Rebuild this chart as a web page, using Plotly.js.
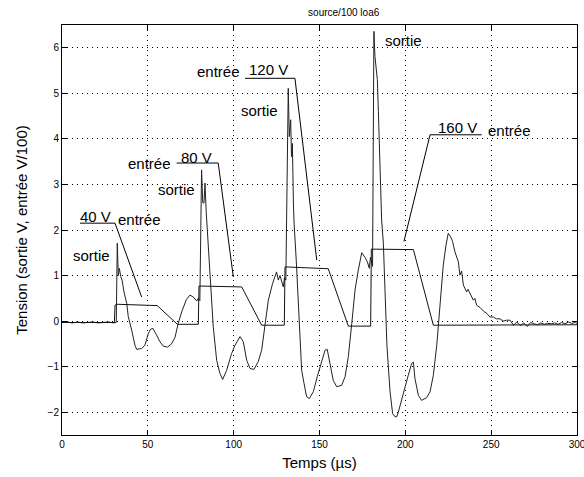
<!DOCTYPE html>
<html>
<head>
<meta charset="utf-8">
<script src="https://cdn.plot.ly/plotly-3.0.1.min.js"></script>
<style>html,body{margin:0;padding:0;background:#fff;}#chart{width:584px;height:477px;}</style>
</head>
<body>
<div id="chart"></div>
<script>
// ---- data ----
const entreeT = [0, 30.5, 30.9, 32, 55.5, 67.2, 79.4, 79.8, 104.7, 116.3, 129.5, 129.9, 155.1, 166.8, 179.8, 180.2, 204.7, 216.3, 300];
const entreeV = [-0.03, -0.03, 0.35, 0.37, 0.34, -0.07, -0.07, 0.77, 0.75, -0.09, -0.09, 1.19, 1.15, -0.11, -0.11, 1.58, 1.57, -0.09, -0.08];

const sortieT = [
  0, 3, 6, 9, 12, 15, 18, 21, 24, 27, 30, 31.6,
  32.2, 32.8, 33.4, 34.2, 35, 36.1, 37.7, 38.6, 40.6, 42.5, 43.5, 46.4, 48.3, 50.3, 51.5, 53, 55, 57, 59, 61.5, 63.8, 65.8, 67.7, 69.7, 72.4, 74.5, 76.5, 78.5, 79.4, 80.3,
  81.3, 82, 82.7, 83.3, 84, 85.2, 86.6, 88.1, 90.1, 92, 93.6, 95.9, 98.8, 100.8, 103.7, 105.6, 107.6, 109.5, 111.8, 114.3, 116.3, 118.2, 120.2, 122.7, 125, 126, 127, 128.9, 129.6, 130.4,
  131.8, 132.4, 133.2, 133.7, 134.2, 134.8, 135.2, 136.5, 137.7, 138.6, 139.6, 141, 142.5, 144.1, 146.4, 148.7, 151.3, 153.2, 154.5, 156.1, 158, 160, 162.9, 164.9, 166.8, 168.8, 170.7, 172.6, 174.6, 176.5, 177.9, 179, 179.7, 180.9,
  181.7, 182.3, 183, 183.7, 184.3, 185.2, 186.2, 187.2, 188.2, 189.3, 191.1, 192.6, 194, 195, 195.9, 197.9, 199.8, 201.7, 203.7, 204.7, 205.6, 207.6, 209.5, 212.4, 214.4, 216.3, 218.3, 220.2, 222.1, 223.7,
  225, 226.4, 227.5, 228.9, 230.9, 231.8, 232.8, 233.8, 235.7, 236.5, 237.7, 239.6, 240.5, 241.5, 243.5, 245.5, 247.4, 249.3, 251.3, 253, 255.2, 257, 259, 261, 263, 265, 267, 269, 271, 273, 275, 277, 279, 281, 283, 285, 287, 289, 291, 293, 295, 297, 299, 300
];
const sortieV = [
  -0.03, -0.02, -0.04, -0.02, -0.04, -0.03, -0.02, -0.04, -0.03, -0.02, -0.04, -0.03,
  1.71, 1.0, 1.16, 0.98, 0.9, 0.64, 0.39, 0.1, -0.2, -0.53, -0.62, -0.6, -0.53, -0.27, -0.18, -0.16, -0.3, -0.45, -0.55, -0.57, -0.5, -0.36, -0.05, 0.2, 0.47, 0.57, 0.53, 0.44, 0.5, 0.45,
  3.32, 2.6, 2.59, 3.03, 2.4, 1.71, 0.75, -0.12, -0.86, -1.15, -1.28, -1.08, -0.71, -0.53, -0.34, -0.45, -0.86, -1.04, -1.06, -0.89, -0.64, -0.12, 0.46, 0.83, 1.08, 0.9, 1.0, 0.75, 0.95, 0.9,
  5.11, 4.05, 4.42, 3.61, 3.9, 2.59, 2.15, 1.3, 0.39, -0.35, -1.08, -1.37, -1.66, -1.7, -1.55, -1.22, -0.86, -0.64, -0.62, -0.93, -1.3, -1.44, -1.41, -1.22, -0.78, -0.05, 0.68, 1.12, 1.5, 1.4, 1.3, 1.16, 1.4, 1.2,
  6.36, 5.81, 5.5, 5.3, 4.6, 3.32, 2.22, 1.71, 0.75, -0.55, -1.55, -2.03, -2.1, -2.1, -2.0, -1.7, -1.41, -1.19, -0.93, -0.9, -1.26, -1.63, -1.74, -1.68, -1.55, -1.19, -0.53, 0.42, 1.23, 1.67,
  1.93, 1.85, 1.75, 1.52, 1.3, 1.01, 1.1, 0.79, 0.64, 0.7, 0.6, 0.46, 0.5, 0.35, 0.3, 0.22, 0.17, 0.09, 0.09, 0.05, 0.05, 0.0, 0.02, 0.02, -0.09, -0.02, -0.1, -0.04, -0.12, -0.03, -0.06, -0.08, -0.04, -0.07, -0.05, -0.06, -0.04, -0.07, -0.03, -0.06, -0.02, -0.05, -0.03, -0.05
];

const xTicks = [0, 50, 100, 150, 200, 250, 300];
const yTicks = [-2, -1, 0, 1, 2, 3, 4, 5, 6];

// ---- labels (text, position) ----
const labelTexts = ['40 V', 'entrée', 'sortie', 'entrée', '80 V', 'sortie', 'entrée', '120 V', 'sortie', 'sortie', '160 V', 'entrée'];
const labelX =     [19.8,   45.4,     16.9,     50.7,     78.5,   66.7,     90.9,     120.0,   114.8,    199.2,    230.4,    260.4];
const labelY =     [2.29,   2.24,     1.45,     3.47,     3.59,   2.88,     5.47,     5.52,    4.62,     6.15,     4.25,     4.18];

// leader lines: [x0, y0, x1, y1]
const leaders = [
  [10.5, 2.15, 30.9, 2.15], [30.9, 2.15, 46.4, 0.53],
  [66.8, 3.47, 91.0, 3.47], [91.0, 3.47, 99.8, 0.97],
  [106.6, 5.33, 135.7, 5.33], [135.7, 5.33, 148.4, 1.34],
  [214.4, 4.09, 244.5, 4.09], [214.4, 4.09, 199.2, 1.75]
];

const FONT = 'Liberation Sans, Arial, Helvetica, sans-serif';

const traces = [
  {x: sortieT, y: sortieV, type: 'scatter', mode: 'lines', line: {color: '#222', width: 1}, hoverinfo: 'skip'},
  {x: entreeT, y: entreeV, type: 'scatter', mode: 'lines', line: {color: '#111', width: 1}, hoverinfo: 'skip'}
];

const annotations = labelTexts.map((t, i) => ({
  text: t, x: labelX[i], y: labelY[i], xref: 'x', yref: 'y', showarrow: false,
  font: {family: FONT, size: 15, color: '#000'}, xanchor: 'center', yanchor: 'middle'
}));

const shapes = leaders.map(s => ({
  type: 'line', xref: 'x', yref: 'y', x0: s[0], y0: s[1], x1: s[2], y1: s[3],
  line: {color: '#000', width: 1}
}));

const axisCommon = {
  showline: true, mirror: 'ticks', linecolor: '#000', linewidth: 1,
  ticks: 'inside', ticklen: 5, tickcolor: '#000',
  showgrid: true, gridcolor: '#000', griddash: '1px,4px', gridwidth: 1,
  zeroline: false, tickfont: {family: FONT, size: 10, color: '#000'},
  ticklabeloverflow: 'allow'
};

const layout = {
  width: 584, height: 477,
  margin: {l: 62, r: 7, t: 25, b: 42},
  paper_bgcolor: '#fff', plot_bgcolor: '#fff',
  showlegend: false,
  font: {family: FONT, color: '#000'},
  title: {text: 'source/100 loa6', font: {family: FONT, size: 10, color: '#000'}, x: 0.547, xref: 'paper', y: 0.974, yref: 'container', xanchor: 'center', yanchor: 'middle'},
  xaxis: Object.assign({}, axisCommon, {range: [0, 300], tickvals: xTicks, title: {text: 'Temps (µs)', font: {family: FONT, size: 15}, standoff: 8}}),
  yaxis: Object.assign({}, axisCommon, {range: [-2.5, 6.5], tickvals: yTicks, title: {text: 'Tension (sortie V, entrée V/100)', font: {family: FONT, size: 15}, standoff: 16}}),
  annotations: annotations,
  shapes: shapes
};

Plotly.newPlot('chart', traces, layout, {staticPlot: true, displayModeBar: false});
</script>
</body>
</html>
